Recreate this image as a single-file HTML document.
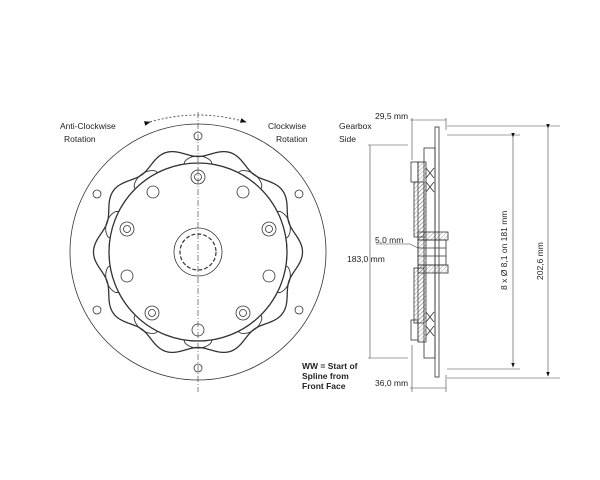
<!DOCTYPE html>
<html><head><style>
body{margin:0;background:#fff}
svg{display:block}
text{font-family:"Liberation Sans",sans-serif;font-size:8.5px;fill:#222}
.b{font-weight:bold}
</style></head><body>
<svg width="600" height="480" viewBox="0 0 600 480">
<defs>
<marker id="a" markerWidth="8" markerHeight="6" refX="7" refY="3" orient="auto"><path d="M0,0L8,3L0,6z" fill="#111"/></marker>
<pattern id="h" width="3" height="3" patternUnits="userSpaceOnUse" patternTransform="rotate(45)"><line x1="0" y1="0" x2="0" y2="3" stroke="#555" stroke-width="0.6"/></pattern>
</defs>
<g fill="none" stroke="#333" stroke-width="0.8">
<circle cx="198" cy="252" r="128"/>
<line x1="198" y1="112" x2="198" y2="392" stroke-dasharray="6,2,1,2" stroke-width="0.6"/>
<path d="M150,122 Q198,108 246,122" stroke-dasharray="2,2" marker-end="url(#a)" marker-start="url(#a)"/>
<circle cx="198" cy="136" r="4"/><circle cx="198" cy="368" r="4"/>
<circle cx="97" cy="194" r="4"/><circle cx="299" cy="194" r="4"/>
<circle cx="97" cy="310" r="4"/><circle cx="299" cy="310" r="4"/>
<path id="s1" stroke-width="1.3"/>
<path id="s2" stroke-width="0.9"/>
<circle cx="198" cy="252" r="89" stroke-width="1.3"/>
<circle cx="198" cy="177" r="7"/><circle cx="198" cy="177" r="3.5"/>
<circle cx="198" cy="330" r="6"/>
<circle cx="153" cy="192" r="6"/><circle cx="243" cy="192" r="6"/>
<circle cx="127" cy="229" r="7"/><circle cx="127" cy="229" r="3.5"/>
<circle cx="269" cy="229" r="7"/><circle cx="269" cy="229" r="3.5"/>
<circle cx="127" cy="276" r="6"/><circle cx="269" cy="276" r="6"/>
<circle cx="152" cy="313" r="7"/><circle cx="152" cy="313" r="3.5"/>
<circle cx="243" cy="313" r="7"/><circle cx="243" cy="313" r="3.5"/>
<circle cx="198" cy="252" r="24"/>
<circle cx="198" cy="252" r="18" stroke-dasharray="4,2" stroke-width="1.2"/>
<rect x="435" y="127" width="4" height="250"/>
<rect x="424" y="148" width="11" height="210"/>
<rect x="418" y="162" width="8" height="180" fill="url(#h)"/>
<rect x="411" y="162" width="7" height="20"/><rect x="411" y="320" width="7" height="20"/>
<rect x="414" y="182" width="10" height="55" fill="url(#h)"/>
<rect x="414" y="268" width="10" height="55" fill="url(#h)"/>
<rect x="418" y="232" width="30" height="8" fill="url(#h)"/>
<rect x="418" y="265" width="30" height="8" fill="url(#h)"/>
<rect x="418" y="240" width="28" height="25"/>
<line x1="418" y1="248" x2="446" y2="248"/><line x1="418" y1="256" x2="446" y2="256"/>
<path d="M426,168 l8,10 M434,168 l-8,10 M426,182 l8,10 M434,182 l-8,10 M426,312 l8,10 M434,312 l-8,10 M426,326 l8,10 M434,326 l-8,10"/>
<g stroke="#444" stroke-width="0.6">
<line x1="412" y1="118" x2="412" y2="160"/><line x1="446" y1="118" x2="446" y2="130"/>
<line x1="412" y1="345" x2="412" y2="392"/><line x1="446" y1="375" x2="446" y2="392"/>
<line x1="410" y1="120" x2="446" y2="120"/><line x1="410" y1="388" x2="446" y2="388"/>
<line x1="447" y1="126" x2="560" y2="126"/><line x1="447" y1="378" x2="560" y2="378"/>
<line x1="447" y1="135" x2="520" y2="135"/><line x1="447" y1="369" x2="520" y2="369"/>
<line x1="548" y1="128" x2="548" y2="376" marker-start="url(#a)" marker-end="url(#a)"/>
<line x1="513" y1="137" x2="513" y2="367" marker-start="url(#a)" marker-end="url(#a)"/>
<line x1="370" y1="145" x2="370" y2="358"/>
<line x1="368" y1="145" x2="408" y2="145"/><line x1="368" y1="358" x2="408" y2="358"/>
<line x1="376" y1="244" x2="410" y2="244"/><line x1="410" y1="244" x2="418" y2="248"/>
</g>
</g>
<text x="60" y="129">Anti-Clockwise</text><text x="64" y="142">Rotation</text>
<text x="268" y="129">Clockwise</text><text x="276" y="142">Rotation</text>
<text x="339" y="129">Gearbox</text><text x="339" y="142">Side</text>
<text x="375" y="119">29,5 mm</text>
<text x="375" y="243">5,0 mm</text>
<text x="347" y="262">183,0 mm</text>
<text x="375" y="386">36,0 mm</text>
<text class="b" x="302" y="369">WW = Start of</text>
<text class="b" x="302" y="379">Spline from</text>
<text class="b" x="302" y="389">Front Face</text>
<text transform="translate(507,290) rotate(-90)">8 x Ø 8,1 on 181 mm</text>
<text transform="translate(543,280) rotate(-90)">202,6 mm</text>
</svg>
<script>
function sc(id,f){var d="";for(var i=0;i<=720;i++){var t=i/720*2*Math.PI;var r=f(t);var x=198+r*Math.sin(t),y=252-r*Math.cos(t);d+=(i?"L":"M")+x.toFixed(2)+","+y.toFixed(2);}document.getElementById(id).setAttribute("d",d+"Z");}
var P=Math.PI/10;
sc("s1",function(t){return 100+4.5*Math.cos(10*(t-P));});
sc("s2",function(t){var c=Math.cos(10*t);return 89+(c>0?7*Math.sqrt(c):0);});
</script>
</body></html>
